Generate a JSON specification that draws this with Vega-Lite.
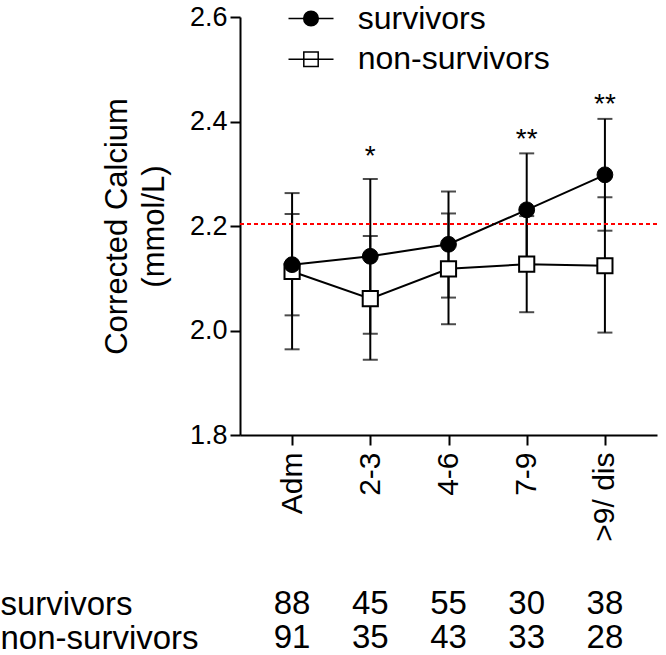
{
  "$schema": "https://vega.github.io/schema/vega-lite/v6.json",
  "padding": {"left": 0, "top": 2, "right": 0, "bottom": 0},
  "background": "white",
  "spacing": 45,
  "config": {
    "font": "Liberation Sans",
    "view": {"stroke": null},
    "axis": {"grid": false, "domainColor": "black", "tickColor": "black", "labelColor": "black", "titleColor": "black", "labelFont": "Liberation Sans", "titleFont": "Liberation Sans"},
    "legend": {"labelFont": "Liberation Sans", "labelColor": "black"}
  },
  "datasets": {
    "means": [
      {"cat": "Adm", "t": 0, "group": "non-survivors", "mean": 2.113, "lo": 1.964, "hi": 2.263},
      {"cat": "2-3", "t": 1, "group": "non-survivors", "mean": 2.061, "lo": 1.944, "hi": 2.181},
      {"cat": "4-6", "t": 2, "group": "non-survivors", "mean": 2.118, "lo": 2.012, "hi": 2.224},
      {"cat": "7-9", "t": 3, "group": "non-survivors", "mean": 2.127, "lo": 2.035, "hi": 2.219},
      {"cat": ">9/ dis", "t": 4, "group": "non-survivors", "mean": 2.124, "lo": 1.996, "hi": 2.255},
      {"cat": "Adm", "t": 0, "group": "survivors", "mean": 2.126, "lo": 2.029, "hi": 2.223},
      {"cat": "2-3", "t": 1, "group": "survivors", "mean": 2.142, "lo": 1.994, "hi": 2.290},
      {"cat": "4-6", "t": 2, "group": "survivors", "mean": 2.165, "lo": 2.063, "hi": 2.266},
      {"cat": "7-9", "t": 3, "group": "survivors", "mean": 2.231, "lo": 2.123, "hi": 2.339},
      {"cat": ">9/ dis", "t": 4, "group": "survivors", "mean": 2.298, "lo": 2.191, "hi": 2.405}
    ],
    "stars": [
      {"cat": "2-3", "y": 2.333, "label": "*"},
      {"cat": "7-9", "y": 2.365, "label": "**"},
      {"cat": ">9/ dis", "y": 2.432, "label": "**"}
    ],
    "ref": [{"ref": 2.204}],
    "counts": [
      {"cat": "Adm", "group": "survivors", "n": 88},
      {"cat": "2-3", "group": "survivors", "n": 45},
      {"cat": "4-6", "group": "survivors", "n": 55},
      {"cat": "7-9", "group": "survivors", "n": 30},
      {"cat": ">9/ dis", "group": "survivors", "n": 38},
      {"cat": "Adm", "group": "non-survivors", "n": 91},
      {"cat": "2-3", "group": "non-survivors", "n": 35},
      {"cat": "4-6", "group": "non-survivors", "n": 43},
      {"cat": "7-9", "group": "non-survivors", "n": 33},
      {"cat": ">9/ dis", "group": "non-survivors", "n": 28}
    ]
  },
  "vconcat": [
    {
      "width": 417,
      "height": 418,
      "encoding": {
        "x": {"field": "cat", "type": "nominal", "sort": ["Adm", "2-3", "4-6", "7-9", ">9/ dis"],
          "scale": {"type": "point", "padding": 0.666},
          "axis": {"title": null, "labelAngle": -90, "labelFontSize": 30, "labelPadding": 7, "tickSize": 10, "tickWidth": 2, "domainWidth": 2, "labelLimit": 0}}
      },
      "layer": [
        {
          "data": {"name": "means"},
          "mark": {"type": "rule", "color": "black", "strokeWidth": 2},
          "encoding": {
            "y": {"field": "lo", "type": "quantitative",
              "scale": {"domain": [1.8, 2.6], "nice": false, "zero": false},
              "axis": {"title": ["Corrected Calcium", "(mmol/L)"], "titleFontSize": 31, "titleFontWeight": "normal", "titleLineHeight": 37, "titlePadding": 19,
                "values": [1.8, 2.0, 2.2, 2.4, 2.6], "format": ".1f", "labelFontSize": 27, "labelPadding": 3, "tickSize": 10, "tickWidth": 2, "domainWidth": 2}},
            "y2": {"field": "hi"}
          }
        },
        {
          "data": {"name": "means"},
          "mark": {"type": "tick", "color": "black", "size": 15, "thickness": 2, "orient": "horizontal"},
          "encoding": {"y": {"field": "lo", "type": "quantitative"}}
        },
        {
          "data": {"name": "means"},
          "mark": {"type": "tick", "color": "black", "size": 15, "thickness": 2, "orient": "horizontal"},
          "encoding": {"y": {"field": "hi", "type": "quantitative"}}
        },
        {
          "data": {"name": "ref"},
          "mark": {"type": "rule", "color": "#ff0000", "strokeWidth": 2, "strokeDash": [4, 3]},
          "encoding": {"x": null, "y": {"field": "ref", "type": "quantitative"}}
        },
        {
          "data": {"name": "means"},
          "mark": {"type": "line", "color": "black", "strokeWidth": 2},
          "encoding": {
            "y": {"field": "mean", "type": "quantitative"},
            "detail": {"field": "group"},
            "order": {"field": "t"}
          }
        },
        {
          "data": {"name": "means"},
          "transform": [{"filter": "datum.group === 'non-survivors'"}],
          "mark": {"type": "point", "shape": "square", "filled": true, "fill": "white", "size": 230, "stroke": "black", "strokeWidth": 2, "opacity": 1},
          "encoding": {"y": {"field": "mean", "type": "quantitative"}}
        },
        {
          "data": {"name": "means"},
          "transform": [{"filter": "datum.group === 'survivors'"}],
          "mark": {"type": "point", "shape": "circle", "filled": true, "fill": "black", "size": 250, "stroke": "black", "strokeWidth": 1, "opacity": 1},
          "encoding": {"y": {"field": "mean", "type": "quantitative"}}
        },
        {
          "data": {"name": "means"},
          "transform": [{"filter": "false"}],
          "mark": {"type": "point", "filled": true, "stroke": "black", "strokeWidth": 2, "opacity": 1},
          "encoding": {
            "y": {"field": "mean", "type": "quantitative"},
            "shape": {"field": "group", "type": "nominal",
              "scale": {"domain": ["survivors", "non-survivors"], "range": ["M-2.25,0H2.25M-0.73,0A0.73,0.73,0,1,1,0.73,0A0.73,0.73,0,1,1,-0.73,0Z", "M-2.25,0H2.25M-0.72,-0.72H0.72V0.72H-0.72Z"]},
              "legend": {"title": null, "orient": "none", "legendX": 55, "legendY": -14.5, "symbolSize": 400, "labelFontSize": 32, "labelOffset": 30.7, "rowPadding": 8.7, "labelLimit": 0, "symbolOpacity": 1}},
            "fill": {"field": "group", "type": "nominal",
              "scale": {"domain": ["survivors", "non-survivors"], "range": ["black", "white"]},
              "legend": {"title": null, "orient": "none", "legendX": 55, "legendY": -14.5, "symbolSize": 400, "labelFontSize": 32, "labelOffset": 30.7, "rowPadding": 8.7, "labelLimit": 0, "symbolOpacity": 1}}
          }
        },
        {
          "data": {"name": "stars"},
          "mark": {"type": "text", "fontSize": 28, "color": "black", "baseline": "middle"},
          "encoding": {
            "y": {"field": "y", "type": "quantitative"},
            "text": {"field": "label"}
          }
        }
      ]
    },
    {
      "width": 417,
      "height": 68,
      "data": {"name": "counts"},
      "mark": {"type": "text", "fontSize": 33, "color": "black", "baseline": "middle"},
      "encoding": {
        "x": {"field": "cat", "type": "nominal", "sort": ["Adm", "2-3", "4-6", "7-9", ">9/ dis"], "scale": {"type": "point", "padding": 0.666}, "axis": null},
        "y": {"field": "group", "type": "nominal", "sort": ["survivors", "non-survivors"], "scale": {"type": "point", "padding": 0.5},
          "axis": {"title": null, "domain": false, "ticks": false, "tickSize": 0, "labelAlign": "left", "labelPadding": 240, "labelFontSize": 33, "labelLimit": 0}},
        "text": {"field": "n"}
      }
    }
  ]
}
